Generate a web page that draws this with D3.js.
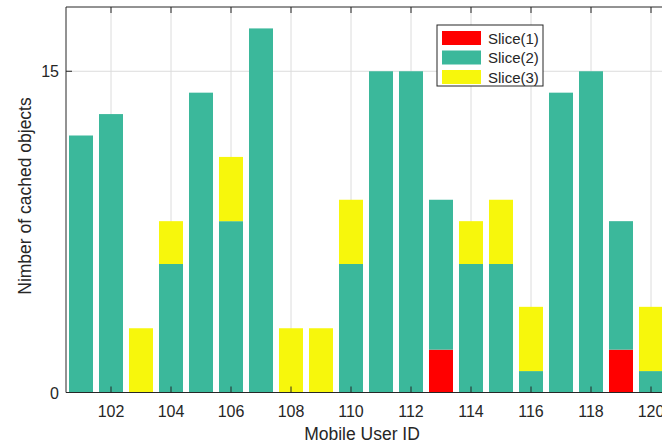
<!DOCTYPE html>
<html lang="en">
<head>
    <meta charset="UTF-8">
    <title>Cached objects per mobile user</title>
    <script src="https://d3js.org/d3.v7.min.js"></script>
    <style>
        body { margin: 0; background: #fff; }
        text { font-family: "Liberation Sans", Arial, sans-serif; fill: #262626; }
        .grid line { stroke: #dcdcdc; stroke-width: 1; }
        .tick-label { font-size: 16px; }
        .axis-label { font-size: 17.5px; }
        .legend-text { font-size: 15px; }
    </style>
</head>
<body>
    <div id="chart-container"></div>
    <script>
// Data
const userIds = [101, 102, 103, 104, 105, 106, 107, 108, 109, 110,
                 111, 112, 113, 114, 115, 116, 117, 118, 119, 120];
const slice1 = [0, 0, 0, 0, 0, 0, 0, 0, 0, 0, 0, 0, 2, 0, 0, 0, 0, 0, 2, 0];
const slice2 = [12, 13, 0, 6, 14, 8, 17, 0, 0, 6, 15, 15, 7, 6, 6, 1, 14, 15, 6, 1];
const slice3 = [0, 0, 3, 2, 0, 3, 0, 3, 3, 3, 0, 0, 0, 2, 3, 3, 0, 0, 0, 3];
const seriesNames = ['Slice(1)', 'Slice(2)', 'Slice(3)'];
const seriesColors = ['#ff0000', '#3bb89b', '#f7f70c'];
const xTicks = [102, 104, 106, 108, 110, 112, 114, 116, 118, 120];
const yTicks = [0, 15];

function buildRows() {
    return userIds.map((id, i) => ({ id: id, s1: slice1[i], s2: slice2[i], s3: slice3[i] }));
}

// Set up chart dimensions
const W = 662, H = 446;
const svg = d3.select('#chart-container').append('svg')
    .attr('width', W).attr('height', H);

const xScale = d3.scaleLinear().domain([100.5, 120.5]).range([66, 666]);
const yScale = d3.scaleLinear().domain([0, 18]).range([392.5, 7]);
const plotLeft = xScale.range()[0], plotRight = xScale.range()[1];
const plotTop = yScale.range()[1], plotBottom = yScale.range()[0];

// Grid lines
const grid = svg.append('g').attr('class', 'grid');
grid.selectAll('.vgrid').data(xTicks).enter().append('line')
    .attr('x1', d => xScale(d)).attr('x2', d => xScale(d))
    .attr('y1', plotTop).attr('y2', plotBottom);
grid.selectAll('.hgrid').data(yTicks.filter(d => d > 0)).enter().append('line')
    .attr('x1', plotLeft).attr('x2', plotRight)
    .attr('y1', d => yScale(d)).attr('y2', d => yScale(d));

// Stacked bars
const stack = d3.stack().keys(['s1', 's2', 's3']);
const stacked = stack(buildRows());
const barWidth = (xScale(1) - xScale(0)) * 0.8;

svg.append('g').selectAll('g')
    .data(stacked)
    .enter().append('g')
    .attr('fill', (d, i) => seriesColors[i])
    .selectAll('rect')
    .data(d => d.filter(v => v[1] - v[0] > 0))
    .enter().append('rect')
    .attr('x', d => xScale(d.data.id) - barWidth / 2)
    .attr('y', d => yScale(d[1]))
    .attr('width', barWidth)
    .attr('height', d => yScale(d[0]) - yScale(d[1]));

// Axes (MATLAB-style box with inward ticks)
const axisColor = '#262626';
const box = svg.append('g');
box.append('line').attr('x1', plotLeft).attr('x2', plotRight).attr('y1', plotBottom).attr('y2', plotBottom)
    .attr('stroke', axisColor);
box.append('line').attr('x1', plotLeft).attr('x2', plotRight).attr('y1', plotTop).attr('y2', plotTop)
    .attr('stroke', axisColor);
box.append('line').attr('x1', plotLeft).attr('x2', plotLeft).attr('y1', plotTop).attr('y2', plotBottom)
    .attr('stroke', axisColor);

const tickLen = 6;
box.selectAll('.xtick-top').data(xTicks).enter().append('line')
    .attr('x1', d => xScale(d)).attr('x2', d => xScale(d))
    .attr('y1', plotTop).attr('y2', plotTop + tickLen).attr('stroke', axisColor);
box.selectAll('.xtick-bot').data(xTicks).enter().append('line')
    .attr('x1', d => xScale(d)).attr('x2', d => xScale(d))
    .attr('y1', plotBottom).attr('y2', plotBottom - tickLen).attr('stroke', axisColor);
box.selectAll('.ytick').data(yTicks).enter().append('line')
    .attr('x1', plotLeft).attr('x2', plotLeft + tickLen)
    .attr('y1', d => yScale(d)).attr('y2', d => yScale(d)).attr('stroke', axisColor);

// Tick labels
svg.selectAll('.xlab').data(xTicks).enter().append('text')
    .attr('class', 'tick-label')
    .attr('x', d => xScale(d)).attr('y', plotBottom + 24)
    .attr('text-anchor', 'middle')
    .text(d => d);
svg.selectAll('.ylab').data(yTicks).enter().append('text')
    .attr('class', 'tick-label')
    .attr('x', plotLeft - 7).attr('y', d => yScale(d) + 6)
    .attr('text-anchor', 'end')
    .text(d => d);

// Axis titles
svg.append('text').attr('class', 'axis-label')
    .attr('x', 362).attr('y', 440).attr('text-anchor', 'middle')
    .text('Mobile User ID');
svg.append('text').attr('class', 'axis-label')
    .attr('transform', 'translate(31,196) rotate(-90)')
    .attr('text-anchor', 'middle')
    .text('Nimber of cached objects');

// Legend
const legend = svg.append('g').attr('transform', 'translate(437,25)');
legend.append('rect').attr('width', 106).attr('height', 61)
    .attr('fill', '#fff').attr('stroke', axisColor).attr('stroke-width', 1);
seriesNames.forEach((name, i) => {
    const row = legend.append('g').attr('transform', `translate(5,${6 + i * 19.5})`);
    row.append('rect').attr('width', 39).attr('height', 14).attr('fill', seriesColors[i]);
    row.append('text').attr('class', 'legend-text').attr('x', 46).attr('y', 12.5).text(name);
});
    </script>
</body>
</html>
